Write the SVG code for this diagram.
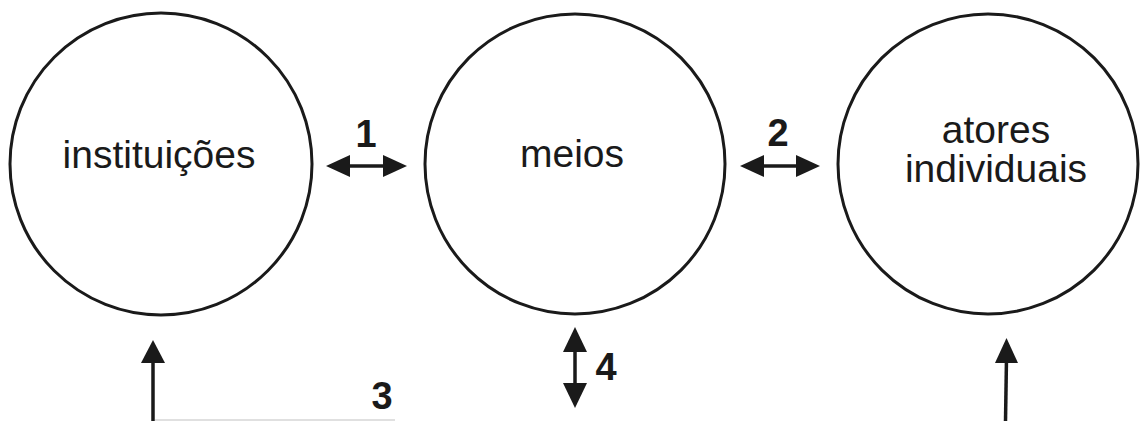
<svg xmlns="http://www.w3.org/2000/svg" width="1141" height="421" viewBox="0 0 1141 421">
<style>
.node{fill:none;stroke:#1a1a1a;stroke-width:3}
.lbl{font-family:"Liberation Sans",Arial,sans-serif;font-size:39px;fill:#1a1a1a;text-anchor:middle}
.num{font-family:"Liberation Sans",Arial,sans-serif;font-size:38px;font-weight:bold;fill:#1a1a1a;text-anchor:middle}
.line{stroke:#1a1a1a;stroke-width:3.5;fill:none}
.head{fill:#1a1a1a}
</style>
<rect width="1141" height="421" fill="#fff"/>
<g id="node-instituicoes">
<circle class="node" cx="161" cy="164" r="151"/>
<text class="lbl" x="159" y="168">instituições</text>
</g>
<g id="node-meios">
<circle class="node" cx="575" cy="164" r="150"/>
<text class="lbl" x="572" y="167">meios</text>
</g>
<g id="node-atores">
<circle class="node" cx="988" cy="164" r="150"/>
<text class="lbl" x="996" y="143">atores</text>
<text class="lbl" x="996" y="182">individuais</text>
</g>
<g id="connectors">
<line class="line" x1="345" y1="166" x2="390" y2="166"/>
<polygon class="head" points="326,166 350,155 350,177"/>
<polygon class="head" points="407,166 383,155 383,177"/>
<text class="num" x="366" y="147">1</text>
<line class="line" x1="760" y1="166" x2="800" y2="166"/>
<polygon class="head" points="740,166 764,155 764,177"/>
<polygon class="head" points="820,166 796,155 796,177"/>
<text class="num" x="778" y="146">2</text>
<line class="line" x1="575" y1="345" x2="575" y2="390"/>
<polygon class="head" points="575,327 563,352 587,352"/>
<polygon class="head" points="575,408 563,383 587,383"/>
<text class="num" x="606" y="380">4</text>
<line class="line" x1="153" y1="358" x2="153" y2="421"/>
<polygon class="head" points="153,340 141,363 165,363"/>
<line x1="155" y1="420" x2="395" y2="420" stroke="#e0e0e0" stroke-width="2"/>
<text class="num" x="382" y="409">3</text>
<line class="line" x1="1006.5" y1="358" x2="1005.5" y2="421"/>
<polygon class="head" points="1006.5,338 995,363 1018,363"/>
</g>
</svg>
